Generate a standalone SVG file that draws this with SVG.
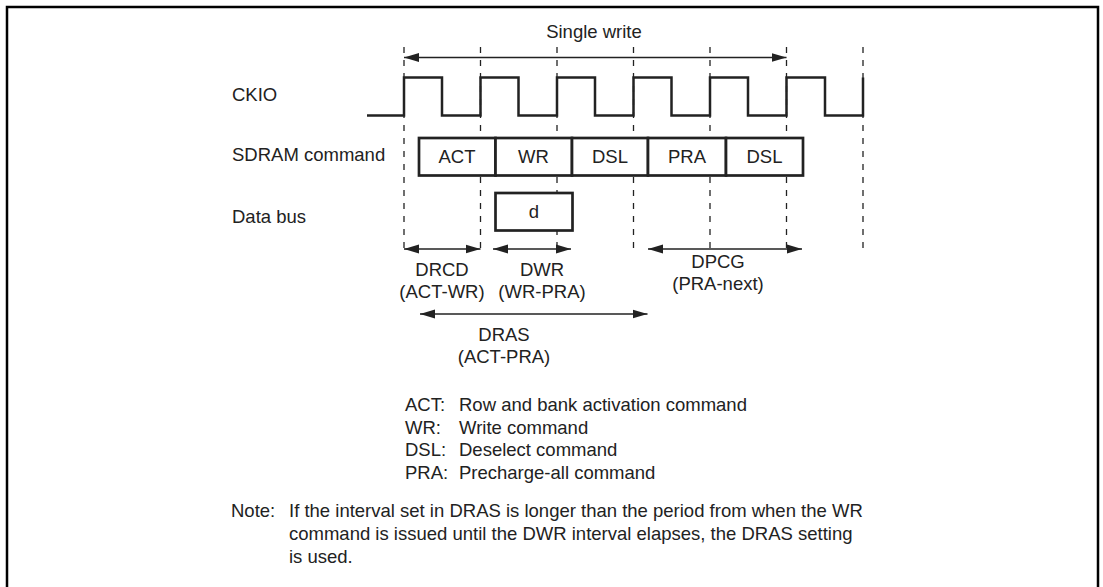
<svg xmlns="http://www.w3.org/2000/svg" width="1103" height="587" viewBox="0 0 1103 587">
<defs>
<style>
text{font-family:"Liberation Sans",Arial,sans-serif;font-size:18.5px;fill:#222}
.c{text-anchor:middle}
.dash{stroke:#222;stroke-width:1.3;stroke-dasharray:6 7;fill:none}
.box{fill:#fff;stroke:#222;stroke-width:2.7}
.arr{stroke:#222;stroke-width:1.4;fill:none;marker-start:url(#ah);marker-end:url(#ah)}
</style>
<marker id="ah" markerUnits="userSpaceOnUse" markerWidth="16" markerHeight="10" refX="15" refY="5" orient="auto-start-reverse"><path d="M0,0.5 L15,5 L0,9.5 z" fill="#222"/></marker>
</defs>
<rect width="1103" height="587" fill="#fff"/>
<path d="M7,600 V7 H1098 V600" fill="none" stroke="#000" stroke-width="2.5"/>
<g id="gridlines">
<path class="dash" d="M404,47 V253 M480.5,47 V253 M557,47 V253 M633.5,47 V253 M710,47 V253 M786.5,47 V253 M863,47 V253"/>
</g>
<g id="labels">
<text x="232" y="101">CKIO</text>
<text x="232" y="161">SDRAM command</text>
<text x="232" y="223">Data bus</text>
</g>
<g id="ckio">
<path d="M367,115.5 H404 V77.5 H442 V115.5 H480.5 V77.5 H518.5 V115.5 H557 V77.5 H595 V115.5 H633.5 V77.5 H671.5 V115.5 H710 V77.5 H748 V115.5 H786.5 V77.5 H825 V115.5 H863 V77.5" fill="none" stroke="#222" stroke-width="2.5"/>
</g>
<g id="cmd-act"><rect class="box" x="419" y="138" width="76.5" height="37.5"/><text class="c" x="457" y="163">ACT</text></g>
<g id="cmd-wr"><rect class="box" x="495.5" y="138" width="76.5" height="37.5"/><text class="c" x="533.5" y="163">WR</text></g>
<g id="cmd-dsl1"><rect class="box" x="572" y="138" width="76" height="37.5"/><text class="c" x="610" y="163">DSL</text></g>
<g id="cmd-pra"><rect class="box" x="648" y="138" width="78" height="37.5"/><text class="c" x="687" y="163">PRA</text></g>
<g id="cmd-dsl2"><rect class="box" x="726" y="138" width="77" height="37.5"/><text class="c" x="764.5" y="163">DSL</text></g>
<g id="data-d"><rect class="box" x="495.5" y="193" width="77" height="37.5"/><text class="c" x="534" y="218">d</text></g>
<g id="connectors">
<line class="arr" x1="404" y1="57.5" x2="786.5" y2="57.5"/>
<line class="arr" x1="404" y1="249" x2="480.5" y2="249"/>
<line class="arr" x1="493" y1="249" x2="571" y2="249"/>
<line class="arr" x1="648" y1="249" x2="802" y2="249"/>
<line class="arr" x1="420" y1="314" x2="647.5" y2="314"/>
</g>
<g id="interval-labels">
<text class="c" x="594" y="38">Single write</text>
<text class="c" x="442" y="276">DRCD</text>
<text class="c" x="442" y="298">(ACT-WR)</text>
<text class="c" x="542" y="276">DWR</text>
<text class="c" x="542" y="298">(WR-PRA)</text>
<text class="c" x="718" y="268">DPCG</text>
<text class="c" x="718" y="290">(PRA-next)</text>
<text class="c" x="504" y="341">DRAS</text>
<text class="c" x="504" y="363">(ACT-PRA)</text>
</g>
<g id="legend">
<text x="405" y="411">ACT:</text><text x="459" y="411">Row and bank activation command</text>
<text x="405" y="433.5">WR:</text><text x="459" y="433.5">Write command</text>
<text x="405" y="456">DSL:</text><text x="459" y="456">Deselect command</text>
<text x="405" y="478.5">PRA:</text><text x="459" y="478.5">Precharge-all command</text>
</g>
<g id="note">
<text x="231" y="517">Note:</text>
<text x="289" y="517">If the interval set in DRAS is longer than the period from when the WR</text>
<text x="289" y="540">command is issued until the DWR interval elapses, the DRAS setting</text>
<text x="289" y="563">is used.</text>
</g>
</svg>
